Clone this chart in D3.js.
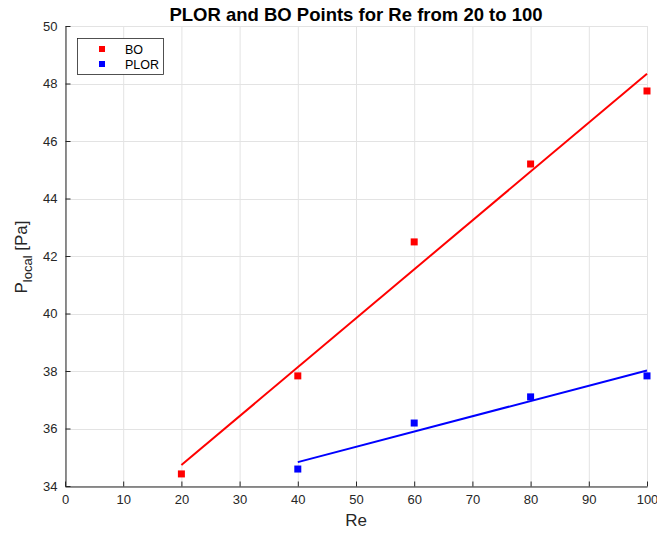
<!DOCTYPE html>
<html><head><meta charset="utf-8">
<script src="https://cdn.jsdelivr.net/npm/d3@7"></script>
<style>body{margin:0;background:#fff}svg{display:block}</style>
</head><body>
<svg id="c" width="657" height="535"></svg>
<script>
const xTicks = [0,10,20,30,40,50,60,70,80,90,100];
const yTicks = [34,36,38,40,42,44,46,48,50];
const boRe = [20,40,60,80,100];
const boP = [34.42,37.83,42.49,45.2,47.74];
const plorRe = [40,60,80,100];
const plorP = [34.59,36.19,37.1,37.83];
const boFitRe = [20,100];
const boFitP = [34.73,48.34];
const plorFitRe = [40,100];
const plorFitP = [34.83,38.02];
const seriesNames = ["BO","PLOR"];
const colors = ["#ff0000","#0000ff"];

const svg = d3.select("#c");
const L=65,R=647,T=26,B=486;
const x = d3.scaleLinear().domain([0,100]).range([L,R]);
const y = d3.scaleLinear().domain([34,50]).range([B,T]);
const font = "'Liberation Sans', Arial, Helvetica, sans-serif";
const axc = "#262626";

// grid
const g = svg.append("g");
g.selectAll(".gx").data(xTicks).enter().append("line")
 .attr("x1",d=>x(d)+0.5).attr("x2",d=>x(d)+0.5).attr("y1",T).attr("y2",B)
 .attr("stroke","#e3e3e3").attr("stroke-width",1);
g.selectAll(".gy").data(yTicks).enter().append("line")
 .attr("y1",d=>Math.round(y(d))+0.5).attr("y2",d=>Math.round(y(d))+0.5).attr("x1",L).attr("x2",R)
 .attr("stroke","#e3e3e3").attr("stroke-width",1);

// axes
const xa = svg.append("g").attr("transform",`translate(0,${B+0.5})`)
 .call(d3.axisBottom(x).tickValues(xTicks).tickSizeInner(-5).tickSizeOuter(0).tickPadding(8));
const ya = svg.append("g").attr("transform",`translate(${L+0.5},0)`)
 .call(d3.axisLeft(y).tickValues(yTicks).tickSizeInner(-5).tickSizeOuter(0).tickPadding(8));
[xa,ya].forEach(a=>{
 a.selectAll("path").attr("stroke",axc);
 a.selectAll("line").attr("stroke",axc);
 a.selectAll("text").attr("fill",axc).style("font-family",font).style("font-size","13px");
});

// fit lines
const line = d3.line().x(d=>x(d[0])).y(d=>y(d[1]));
svg.append("path").datum(boFitRe.map((r,i)=>[r,boFitP[i]])).attr("d",line)
 .attr("stroke",colors[0]).attr("stroke-width",2).attr("fill","none");
svg.append("path").datum(plorFitRe.map((r,i)=>[r,plorFitP[i]])).attr("d",line)
 .attr("stroke",colors[1]).attr("stroke-width",2).attr("fill","none");

// points
const ms=7;
svg.selectAll(".bo").data(boRe.map((r,i)=>[r,boP[i]])).enter().append("rect")
 .attr("x",d=>x(d[0])-ms/2).attr("y",d=>y(d[1])-ms/2).attr("width",ms).attr("height",ms).attr("fill",colors[0]);
svg.selectAll(".pl").data(plorRe.map((r,i)=>[r,plorP[i]])).enter().append("rect")
 .attr("x",d=>x(d[0])-ms/2).attr("y",d=>y(d[1])-ms/2).attr("width",ms).attr("height",ms).attr("fill",colors[1]);

// title
svg.append("text").attr("x",(L+R)/2).attr("y",21).attr("text-anchor","middle")
 .style("font-family",font).style("font-size","18.5px").style("font-weight","bold").attr("fill","#000")
 .text("PLOR and BO Points for Re from 20 to 100");

// x label
svg.append("text").attr("x",(L+R)/2).attr("y",526).attr("text-anchor","middle")
 .style("font-family",font).style("font-size","17px").attr("fill",axc).text("Re");

// y label
const yl = svg.append("text").attr("transform",`translate(27,${(T+B)/2+1}) rotate(-90)`).attr("text-anchor","middle")
 .style("font-family",font).style("font-size","17px").attr("fill",axc);
yl.append("tspan").text("P");
yl.append("tspan").attr("dy",5).style("font-size","13px").text("local");
yl.append("tspan").attr("dy",-5).text(" [Pa]");

// legend
const lg = svg.append("g");
lg.append("rect").attr("x",77.5).attr("y",38.5).attr("width",86).attr("height",36)
 .attr("fill","#fff").attr("stroke","#262626").attr("stroke-width",0.8);
seriesNames.forEach((n,i)=>{
 const yy = 49+i*15;
 lg.append("rect").attr("x",102-3).attr("y",yy-3).attr("width",6).attr("height",6).attr("fill",colors[i]);
 lg.append("text").attr("x",125).attr("y",yy+4.5).style("font-family",font).style("font-size","12.5px")
  .attr("fill","#000").text(n);
});
</script>
</body></html>
